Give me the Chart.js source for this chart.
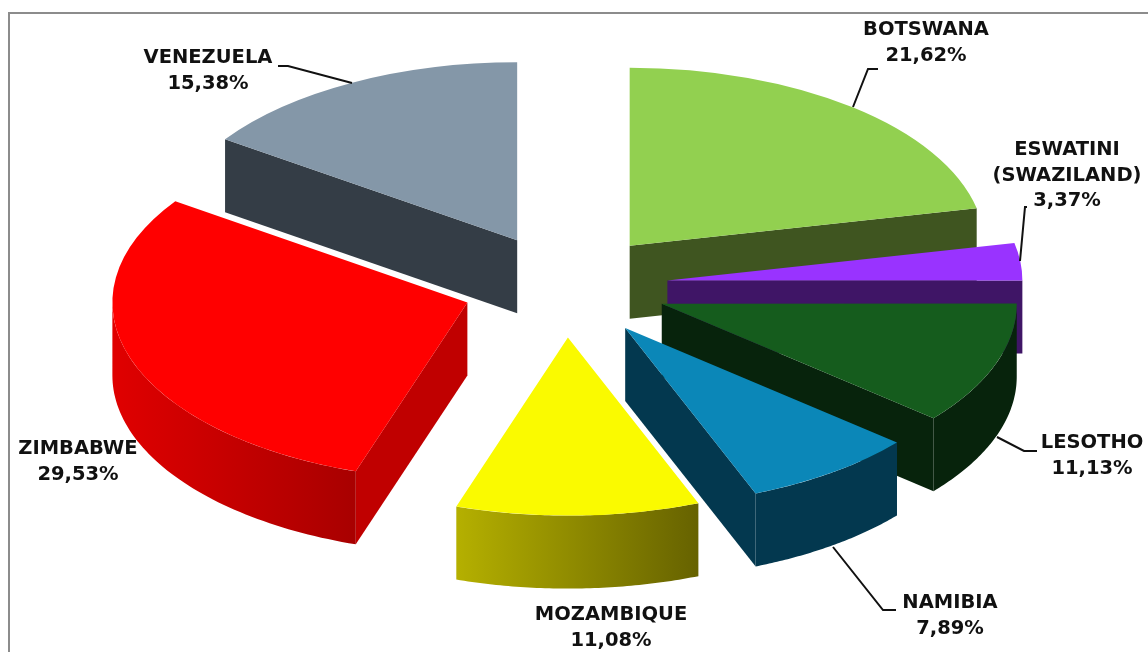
<!DOCTYPE html>
<html>
<head>
<meta charset="utf-8">
<title>Pie</title>
<script src="https://cdn.jsdelivr.net/npm/chart.js@4"></script>
<style>
  html, body { margin: 0; padding: 0; background: #fff; overflow: hidden; }
  #wrap { position: relative; width: 1148px; height: 652px; }
  #frame { position: absolute; left: 8px; top: 12px; width: 1160px; height: 680px; border: 2px solid #8c8c8c; }
  canvas { position: absolute; left: 0; top: 0; }
</style>
</head>
<body>
<div id="wrap">
  <div id="frame"></div>
  <canvas id="pie-chart" width="1148" height="652"></canvas>
</div>
<script>
// Values
const categories = ['BOTSWANA', 'ESWATINI\n(SWAZILAND)', 'LESOTHO', 'NAMIBIA', 'MOZAMBIQUE', 'ZIMBABWE', 'VENEZUELA'];
const shares = [21.62, 3.37, 11.13, 7.89, 11.08, 29.53, 15.38];

// Colours: top face, radial wall, rim left, rim right
const topColors = ['#92d050', '#9933ff', '#155c1d', '#0b87b8', '#fafa00', '#ff0000', '#8497a8'];
const wallColors = ['#3f5520', '#3f1566', '#07230c', '#03384f', '#6b6a00', '#c00000', '#343d46'];
const rimLeftColors = ['#3f5520', '#3f1566', '#07230c', '#03384f', '#b5b000', '#e00000', '#343d46'];
const rimRightColors = ['#3f5520', '#3f1566', '#07230c', '#03384f', '#666200', '#a80000', '#343d46'];

// Tilted pie geometry on the page
const pie = { centerX: 565, centerY: 286, radiusX: 355, radiusY: 178, depth: 73, explode: 0.29 };

// Label text centres and leader lines, in the same order as categories
const labelCenters = [[926, 30], [1067, 150], [1092, 443], [950, 603], [611, 615], [78, 449], [208, 58]];
const leaders = [
  [[878, 69], [868, 69], [853, 107]],
  [[1027, 207], [1025, 207], [1020, 261]],
  [[1037, 451], [1024, 451], [997, 437]],
  [[896, 610], [883, 610], [833, 547]],
  null,
  null,
  [[278, 66], [288, 66], [352, 83]]
];

// Screen position of an arc point, for depth pixels under the top face
function toScreen(arc, angle, radius, depth) {
  const mid = (arc.startAngle + arc.endAngle) / 2;
  const shift = pie.explode * arc.outerRadius;
  const px = Math.cos(mid) * shift + Math.cos(angle) * radius;
  const py = Math.sin(mid) * shift + Math.sin(angle) * radius;
  return [
    pie.centerX + px * pie.radiusX / arc.outerRadius,
    pie.centerY + py * pie.radiusY / arc.outerRadius + depth
  ];
}

function fillPolygon(ctx, points, fill) {
  ctx.beginPath();
  points.forEach((p, i) => i ? ctx.lineTo(p[0], p[1]) : ctx.moveTo(p[0], p[1]));
  ctx.closePath();
  ctx.fillStyle = fill;
  ctx.fill();
}

function drawWall(ctx, arc, angle, color) {
  fillPolygon(ctx, [
    toScreen(arc, angle, 0, 0),
    toScreen(arc, angle, arc.outerRadius, 0),
    toScreen(arc, angle, arc.outerRadius, pie.depth),
    toScreen(arc, angle, 0, pie.depth)
  ], color);
}

function drawRim(ctx, arc, i) {
  // only the part of the rim that faces the viewer
  const from = Math.max(arc.startAngle, 0);
  const to = Math.min(arc.endAngle, Math.PI);
  if (to <= from) return;
  const upper = [];
  const lower = [];
  const steps = 60;
  for (let s = 0; s <= steps; s++) {
    const angle = from + (to - from) * s / steps;
    upper.push(toScreen(arc, angle, arc.outerRadius, 0));
    lower.unshift(toScreen(arc, angle, arc.outerRadius, pie.depth));
  }
  const xs = upper.map(p => p[0]);
  const gradient = ctx.createLinearGradient(Math.min(...xs), 0, Math.max(...xs), 0);
  gradient.addColorStop(0, rimLeftColors[i]);
  gradient.addColorStop(1, rimRightColors[i]);
  fillPolygon(ctx, upper.concat(lower), gradient);
}

const tiltedPiePlugin = {
  id: 'tiltedPie',
  beforeDatasetDraw(chart, args) {
    const ctx = chart.ctx;
    const arcs = chart.getDatasetMeta(args.index).data;
    const sinMid = arc => Math.sin((arc.startAngle + arc.endAngle) / 2);
    // back slices first
    const order = arcs.map((arc, i) => i).sort((a, b) => sinMid(arcs[a]) - sinMid(arcs[b]));

    order.forEach(i => {
      const arc = arcs[i];
      if (Math.sin(arc.startAngle - Math.PI / 2) > 0) drawWall(ctx, arc, arc.startAngle, wallColors[i]);
      if (Math.sin(arc.endAngle + Math.PI / 2) > 0) drawWall(ctx, arc, arc.endAngle, wallColors[i]);
      drawRim(ctx, arc, i);

      // top face comes from the library's own arc, squashed onto the page
      const mid = (arc.startAngle + arc.endAngle) / 2;
      const shift = pie.explode * arc.outerRadius;
      ctx.save();
      ctx.translate(pie.centerX, pie.centerY);
      ctx.scale(pie.radiusX / arc.outerRadius, pie.radiusY / arc.outerRadius);
      ctx.translate(Math.cos(mid) * shift - arc.x, Math.sin(mid) * shift - arc.y);
      arc.draw(ctx);
      ctx.restore();
    });
    return false;
  },
  afterDraw(chart) {
    const ctx = chart.ctx;
    ctx.save();
    ctx.strokeStyle = '#111';
    ctx.lineWidth = 2;
    leaders.forEach(line => {
      if (!line) return;
      ctx.beginPath();
      line.forEach((p, i) => i ? ctx.lineTo(p[0], p[1]) : ctx.moveTo(p[0], p[1]));
      ctx.stroke();
    });

    ctx.fillStyle = '#111';
    ctx.font = 'bold 19.5px "DejaVu Sans"';
    ctx.textAlign = 'center';
    ctx.textBaseline = 'middle';
    categories.forEach((name, i) => {
      const rows = name.split('\n').concat(shares[i].toFixed(2).replace('.', ',') + '%');
      rows.forEach((row, r) => ctx.fillText(row, labelCenters[i][0], labelCenters[i][1] + r * 25.7));
    });
    ctx.restore();
  }
};

new Chart(document.getElementById('pie-chart').getContext('2d'), {
  type: 'pie',
  data: {
    labels: categories,
    datasets: [{
      data: shares,
      backgroundColor: topColors,
      borderWidth: 0
    }]
  },
  options: {
    responsive: false,
    animation: false,
    layout: { padding: 0 },
    plugins: {
      legend: { display: false },
      tooltip: { enabled: false }
    }
  },
  plugins: [tiltedPiePlugin]
});
</script>
</body>
</html>
